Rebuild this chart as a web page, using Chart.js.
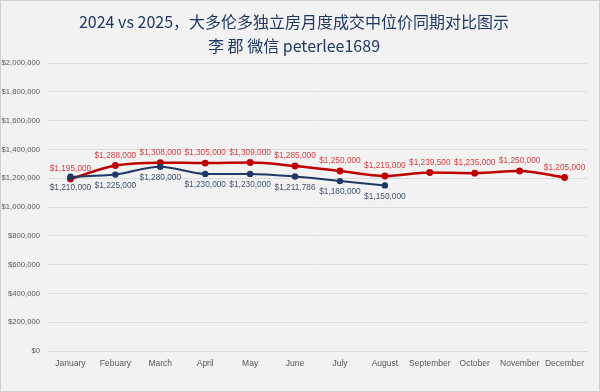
<!DOCTYPE html>
<html><head><meta charset="utf-8">
<script src="https://cdn.jsdelivr.net/npm/chart.js@4/dist/chart.umd.min.js"></script>
<style>
html,body{margin:0;padding:0;background:#f2f2f2;}
#wrap{width:598px;height:390px;border:1px solid #d0d0d0;background:#f2f2f2;}
</style></head>
<body><div id="wrap"><canvas id="c" width="598" height="390"></canvas></div>
<script>
const months = ["January","Febuary","March","April","May","June","July","August","September","October","November","December"];
const seriesRed = [1195000,1288000,1308000,1305000,1309000,1285000,1250000,1215000,1239500,1235000,1250000,1205000];
const seriesBlue = [1210000,1225000,1280000,1230000,1230000,1211786,1180000,1150000];
const titleLines = ["2024 vs 2025，大多伦多独立房月度成交中位价同期对比图示","李 郡 微信 peterlee1689"];
const fmt = v => "$" + Math.round(v).toLocaleString("en-US");

const labelPlugin = {
  id: "vlabels",
  afterDatasetsDraw(chart) {
    const ctx = chart.ctx;
    chart.data.datasets.forEach((ds, i) => {
      const meta = chart.getDatasetMeta(i);
      ctx.save();
      ctx.font = "8.3px 'Liberation Sans', Arial, sans-serif";
      ctx.textAlign = "center";
      ctx.textBaseline = "middle";
      ctx.fillStyle = ds.labelColor;
      meta.data.forEach((pt, j) => {
        const off = ds.labelPos === "top" ? -10 : 11;
        ctx.fillText(fmt(ds.data[j]), pt.x, pt.y + off);
      });
      ctx.restore();
    });
  }
};

new Chart(document.getElementById("c"), {
  type: "line",
  data: {
    labels: months,
    datasets: [
      { data: seriesBlue, borderColor: "#1f3864", backgroundColor: "#1f3864", borderWidth: 2,
        pointRadius: 2.2, tension: 0.4, cubicInterpolationMode: "monotone", labelColor: "#44546a", labelPos: "bottom" },
      { data: seriesRed, borderColor: "#c00000", backgroundColor: "#c00000", borderWidth: 2.5,
        pointRadius: 2.2, tension: 0.4, cubicInterpolationMode: "monotone", labelColor: "#d94040", labelPos: "top" }
    ]
  },
  options: {
    responsive: false,
    animation: false,
    layout: { padding: { left: 0, right: 12, top: 0, bottom: 0 } },
    plugins: {
      legend: { display: false },
      tooltip: { enabled: false },
      title: { display: true, text: titleLines, color: "#1f3864",
        font: { family: "'Noto Sans CJK SC', sans-serif", size: 16, weight: "normal", lineHeight: 1.5 },
        padding: { top: 9, bottom: 5 } }
    },
    scales: {
      x: {
        offset: true,
        grid: { display: false, drawTicks: false },
        border: { color: "#d9d9d9" },
        ticks: { color: "#595959", font: { family: "'Liberation Sans', Arial, sans-serif", size: 8.5 }, maxRotation: 0, autoSkip: false, padding: 8 },
        afterFit(s) { s.height = 40; }
      },
      y: {
        min: 0, max: 2000000,
        grid: { color: "#dcdcdc", drawTicks: false },
        border: { display: false },
        ticks: { stepSize: 200000, callback: v => fmt(v), color: "#595959",
          font: { family: "'Liberation Sans', Arial, sans-serif", size: 7.7 }, padding: 8 },
        afterFit(s) { s.width = 47; }
      }
    }
  },
  plugins: [labelPlugin]
});
</script></body></html>
